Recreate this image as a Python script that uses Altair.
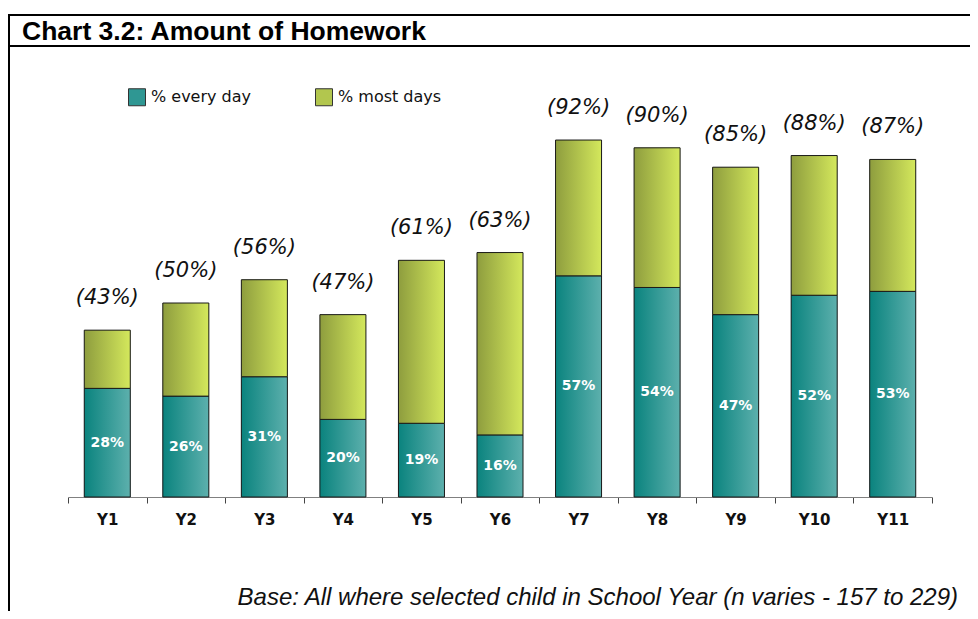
import altair as alt
import pandas as pd

years = ["Y1", "Y2", "Y3", "Y4", "Y5", "Y6", "Y7", "Y8", "Y9", "Y10", "Y11"]
every_day = [28, 26, 31, 20, 19, 16, 57, 54, 47, 52, 53]
most_days = [15, 24, 25, 27, 42, 47, 35, 36, 38, 36, 34]
totals = [43, 50, 56, 47, 61, 63, 92, 90, 85, 88, 87]
series_names = ["% every day", "% most days"]
title_text = "Chart 3.2: Amount of Homework"
footnote_text = "Base: All where selected child in School Year (n varies - 157 to 229)"

rows = []
for yr, e, m in zip(years, every_day, most_days):
    rows.append({"year": yr, "series": series_names[0], "start": 0, "end": e})
    rows.append({"year": yr, "series": series_names[1], "start": e, "end": e + m})
bars_df = pd.DataFrame(rows)

every_df = pd.DataFrame({"year": years, "value": every_day,
                         "mid": [v / 2 for v in every_day],
                         "label": [f"{v}%" for v in every_day]})
total_df = pd.DataFrame({"year": years, "total": totals,
                         "label": [f"({v}%)" for v in totals]})

teal_grad = alt.LinearGradient(
    gradient="linear", x1=0, x2=1, y1=0, y2=0,
    stops=[alt.GradientStop(color="#0a837e", offset=0),
           alt.GradientStop(color="#5db0ad", offset=1)])
green_grad = alt.LinearGradient(
    gradient="linear", x1=0, x2=1, y1=0, y2=0,
    stops=[alt.GradientStop(color="#8e9d3e", offset=0),
           alt.GradientStop(color="#d4e85c", offset=1)])

bar_band = alt.RelativeBandSize(band=0.586)

x_enc = alt.X("year:N", sort=years,
              scale=alt.Scale(paddingInner=0, paddingOuter=0),
              axis=alt.Axis(title=None, labelAngle=0, tickBand="extent",
                            ticks=True, domainColor="#808080", tickColor="#444444",
                            tickWidth=1, tickSize=6, labelPadding=9,
                            labelFont="DejaVu Sans", labelFontWeight="bold",
                            labelFontSize=15, labelColor="#111111", grid=False))
y_scale = alt.Scale(domain=[0, 100])

legend_bars = alt.Chart(bars_df).mark_bar(width=bar_band).encode(
    x=x_enc,
    y=alt.Y("start:Q", scale=y_scale, axis=None),
    y2="end:Q",
    color=alt.Color("series:N",
                    scale=alt.Scale(domain=series_names, range=["#2f9793", "#b2c64e"]),
                    legend=alt.Legend(title=None, orient="none", legendX=60, legendY=-21,
                                      direction="horizontal", symbolType="square",
                                      symbolSize=289, symbolStrokeColor="#333333",
                                      symbolStrokeWidth=1, labelFont="DejaVu Sans",
                                      labelFontSize=16, labelColor="#111111",
                                      columnPadding=61, labelOffset=5, padding=0)))

grad_every = alt.Chart(bars_df).transform_filter(
    alt.datum.series == series_names[0]
).mark_bar(width=bar_band, color=teal_grad, stroke="#1a1a1a", strokeWidth=1).encode(
    x=x_enc, y=alt.Y("start:Q", scale=y_scale, axis=None), y2="end:Q")

grad_most = alt.Chart(bars_df).transform_filter(
    alt.datum.series == series_names[1]
).mark_bar(width=bar_band, color=green_grad, stroke="#1a1a1a", strokeWidth=1).encode(
    x=x_enc, y=alt.Y("start:Q", scale=y_scale, axis=None), y2="end:Q")

inner_labels = alt.Chart(every_df).mark_text(
    font="DejaVu Sans", fontWeight="bold", fontSize=14, color="white",
    baseline="middle", align="center"
).encode(x=x_enc, y=alt.Y("mid:Q", scale=y_scale, axis=None), text="label:N")

total_labels = alt.Chart(total_df).mark_text(
    font="DejaVu Sans", fontStyle="italic", fontSize=21, color="#111111",
    baseline="middle", align="center", dy=-32
).encode(x=x_enc, y=alt.Y("total:Q", scale=y_scale, axis=None), text="label:N")

one = pd.DataFrame({"t": [title_text], "f": [footnote_text]})

top_rule = alt.Chart(one).mark_rule(color="black", strokeWidth=2).encode(
    x=alt.value(-60), x2=alt.value(910), y=alt.value(-94))
sep_rule = alt.Chart(one).mark_rule(color="black", strokeWidth=2).encode(
    x=alt.value(-60), x2=alt.value(910), y=alt.value(-63))
left_rule = alt.Chart(one).mark_rule(color="black", strokeWidth=2).encode(
    x=alt.value(-59), y=alt.value(-95), y2=alt.value(520))

title_mark = alt.Chart(one).mark_text(
    font="Liberation Sans", fontWeight="bold", fontSize=26.5, color="black",
    align="left", baseline="alphabetic"
).encode(x=alt.value(-46), y=alt.value(-69.5), text="t:N")

foot_mark = alt.Chart(one).mark_text(
    font="Liberation Sans", fontStyle="italic", fontSize=24, color="#111111",
    align="right", baseline="alphabetic"
).encode(x=alt.value(890), y=alt.value(496), text="f:N")

chart = alt.layer(
    legend_bars, grad_every, grad_most, inner_labels, total_labels,
    top_rule, sep_rule, left_rule, title_mark, foot_mark
).properties(
    width=864, height=388,
    autosize=alt.AutoSizeParams(type="none"),
    padding={"left": 60, "top": 101, "right": 38, "bottom": 114},
    background="white"
).configure_view(stroke=None)

chart.save("out.html", embed_options={"renderer": "svg", "actions": False})
